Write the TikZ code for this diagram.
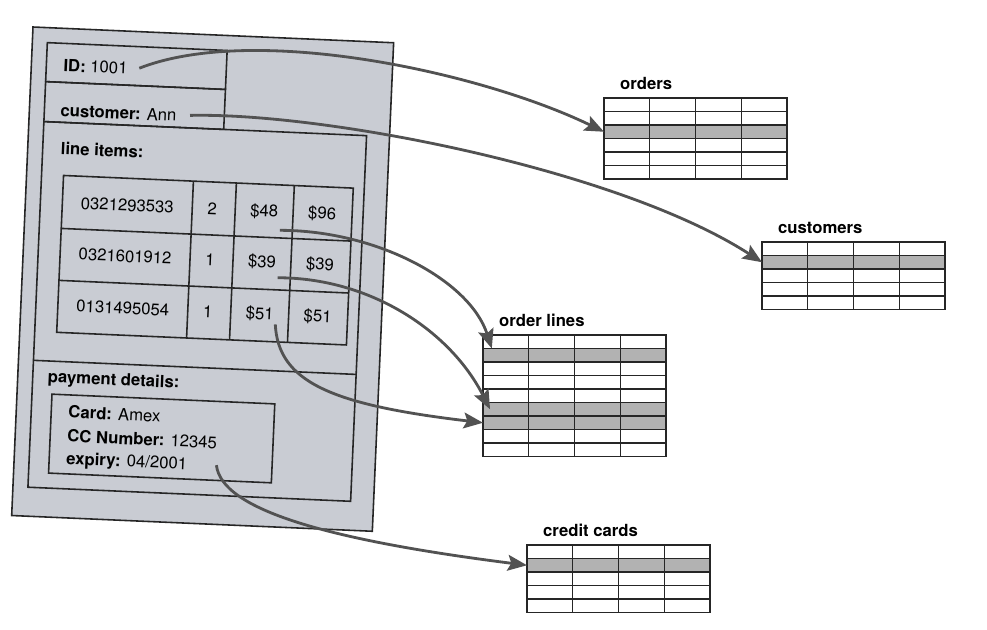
\documentclass[tikz,border=0pt]{standalone}
\usepackage{fontspec}
\setmainfont{TeX Gyre Heros}
\usetikzlibrary{arrows.meta,calc,positioning}

\definecolor{docgrey}{RGB}{201,204,211}
\definecolor{rowgrey}{RGB}{178,178,178}
\definecolor{linkgrey}{RGB}{82,82,82}

\tikzset{
  docbox/.style={draw=black!85, line width=0.9pt},
  doctext/.style={anchor=west, inner sep=0.5pt, font=\fontsize{9.5}{11}\selectfont},
  celltext/.style={inner sep=1pt, font=\fontsize{9.5}{11}\selectfont},
  tblrow/.style={draw=black!85, fill=white, line width=0.8pt, minimum width=3.66cm,
    minimum height=0.27cm, inner sep=0pt, outer sep=0pt},
  tbltitle/.style={anchor=south west, inner sep=1pt, font=\bfseries\fontsize{9.5}{11}\selectfont},
  link/.style={draw=linkgrey, line width=1.6pt, -{Stealth[length=11pt,width=9pt,inset=2pt]}},
}

% table: name, left, top, rows, grey rows, title
\newcommand{\dbtable}[6]{%
  \foreach \r in {1,...,#4}
    \node[tblrow] (#1-\r) at (#2+91.5, #3+\r*13.5-6.75) {};
  \foreach \h in {#5}
    \node[tblrow, fill=rowgrey] (#1-\h-hl) at (#1-\h) {};
  \foreach \c in {1,2,3}
    \draw[draw=black!85, line width=0.8pt] ($(#1-1.north west)!\c/4!(#1-1.north east)$)
      -- ($(#1-#4.south west)!\c/4!(#1-#4.south east)$);
  \node[tbltitle] (#1-title) at ([xshift=8pt,yshift=3.5pt]#1-1.north west) {#6};
}

\begin{document}
\begin{tikzpicture}[x=0.02cm, y=-0.02cm]
  \useasboundingbox (0,0) rectangle (987,629);

  % the order document
  \begin{scope}[rotate around={-2.5:(33,27)}, transform shape]
    \draw[docbox, fill=docgrey] (33,27) rectangle (394,516);
    \draw[docbox] (48,42) rectangle (228,81);
    \draw[docbox] (48,81) rectangle (228,121);
    \draw[docbox] (48,121) rectangle (371,487);
    \draw[docbox] (48,360) -- (371,360);
    \draw[docbox] (70,174) rectangle (360,331);
    \draw[docbox] (70,227) -- (360,227) (70,279) -- (360,279);
    \draw[docbox] (200,174) -- (200,331) (243,174) -- (243,331) (301,174) -- (301,331);
    \draw[docbox] (68,393) rectangle (291,472);

    \begin{scope}[every node/.style={doctext}]
      \node (idtext)    at (64,64)  {\textbf{ID:} 1001};
      \node (custtext)  at (63,109) {\textbf{customer:} Ann};
      \node (itemshead) at (65,147) {\textbf{line items:}};
      \node (payhead)   at (62,377) {\textbf{payment details:}};
      \node (card)      at (84,410) {\textbf{Card:} Amex};
      \node (ccnum)     at (84,434) {\textbf{CC Number:} 12345};
      \node (expiry)    at (84,458) {\textbf{expiry:} 04/2001};
    \end{scope}

    \begin{scope}[every node/.style={celltext}]
      \node (isbn1)  at (135,201) {0321293533};
      \node (qty1)   at (220,201) {2};
      \node (price1) at (272,201) {\$48};
      \node (total1) at (330,201) {\$96};
      \node (isbn2)  at (135,252) {0321601912};
      \node (qty2)   at (220,252) {1};
      \node (price2) at (272,252) {\$39};
      \node (total2) at (330,252) {\$39};
      \node (isbn3)  at (135,304) {0131495054};
      \node (qty3)   at (220,304) {1};
      \node (price3) at (272,304) {\$51};
      \node (total3) at (330,304) {\$51};
    \end{scope}
  \end{scope}

  % the tables
  \dbtable{orders}{604}{98}{6}{3}{orders}
  \dbtable{customers}{762}{242}{5}{2}{customers}
  \dbtable{orderlines}{483}{335}{9}{2,6,7}{order lines}
  \dbtable{creditcards}{527}{545}{5}{2}{credit cards}

  % links
  \path[link] ([xshift=6pt]idtext.east) .. controls +(115,-45) and +(-124,-60) .. (orders-3.west);
  \path[link] ([xshift=7pt]custtext.east) .. controls +(137,-3) and +(-142,-92) .. (customers-2.west);
  \path[link] ([yshift=-5pt]price1.south east) .. controls +(97,0) and +(-22,-68) .. ([xshift=5pt]orderlines-2.north west);
  \path[link] ([yshift=-3pt]price2.south east) .. controls +(92,0) and +(-40,-79) .. ([xshift=4pt]orderlines-6.west);
  \path[link] (price3.south east) .. controls +(3,57) and +(-153,-18) .. (orderlines-7.west);
  \path[link] ([xshift=16pt]expiry.east) .. controls +(5,45) and +(-197,-25) .. (creditcards-2.west);

\end{tikzpicture}
\end{document}
